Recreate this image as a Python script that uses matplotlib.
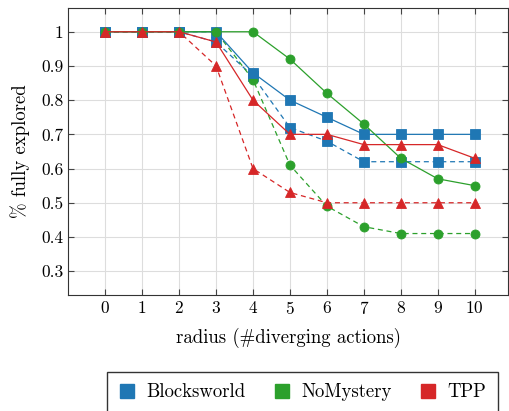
import matplotlib.pyplot as plt
from matplotlib.lines import Line2D

### ---- Data
radius = [0, 1, 2, 3, 4, 5, 6, 7, 8, 9, 10]

bw_solid = [1, 1, 1, 1.00, 0.88, 0.80, 0.75, 0.70, 0.70, 0.70, 0.70]
bw_dash = [1, 1, 1, 0.97, 0.87, 0.72, 0.68, 0.62, 0.62, 0.62, 0.62]
nm_solid = [1, 1, 1, 1.00, 1.00, 0.92, 0.82, 0.73, 0.63, 0.57, 0.55]
nm_dash = [1, 1, 1, 1.00, 0.86, 0.61, 0.49, 0.43, 0.41, 0.41, 0.41]
tpp_solid = [1, 1, 1, 0.97, 0.80, 0.70, 0.70, 0.67, 0.67, 0.67, 0.63]
tpp_dash = [1, 1, 1, 0.90, 0.60, 0.53, 0.50, 0.50, 0.50, 0.50, 0.50]

names = ["Blocksworld", "NoMystery", "TPP"]
colors = ["#1f77b4", "#2ca02c", "#d62728"]
yticks = [0.3, 0.4, 0.5, 0.6, 0.7, 0.8, 0.9, 1.0]

plt.rcParams['font.family'] = ['cmr10', 'DejaVu Serif']
plt.rcParams['mathtext.fontset'] = 'cm'
plt.rcParams['axes.formatter.use_mathtext'] = True

fig = plt.figure(figsize=(5.09, 4.11), dpi=100)
ax = fig.add_axes([0.134, 0.282, 0.864, 0.699])

### ---- dashed first so solid lines sit on top
series = [
    (bw_dash, colors[0], 's', '--'),
    (nm_dash, colors[1], 'o', '--'),
    (tpp_dash, colors[2], '^', '--'),
    (bw_solid, colors[0], 's', '-'),
    (nm_solid, colors[1], 'o', '-'),
    (tpp_solid, colors[2], '^', '-'),
]
for vals, c, m, ls in series:
    line, = ax.plot(radius, vals, color=c, marker=m, linestyle=ls,
                    linewidth=0.9, markersize=6.5, markeredgewidth=0.6,
                    markeredgecolor=c)
    if ls == '--':
        line.set_dashes((4, 3))

ax.set_xlim(-1, 10.9)
ax.set_ylim(0.23, 1.07)
ax.set_xticks(radius)
ax.set_yticks(yticks)
ax.set_yticklabels(["0.3", "0.4", "0.5", "0.6", "0.7", "0.8", "0.9", "1"])
ax.tick_params(direction='in', top=True, right=True, labelsize=12.5, length=4,
               color='#444444')
ax.grid(True, color='#dddddd', linewidth=0.8)
ax.set_axisbelow(True)
ax.set_xlabel("radius (#diverging actions)", fontsize=13.5, labelpad=8)
ax.set_ylabel("% fully explored", fontsize=13.5, labelpad=8)
for s in ax.spines.values():
    s.set_color('#333333')

handles = [Line2D([], [], marker='s', linestyle='none', color=c,
                  markersize=10, markeredgecolor=c) for c in colors]
fig.legend(handles, names, loc='upper left',
           bbox_to_anchor=(0.210, -0.02, 0.768, 0.115), mode='expand',
           ncol=3, frameon=True, fancybox=False, edgecolor='black',
           fontsize=13.5, handletextpad=0.6, borderpad=0.6,
           handlelength=0.9, borderaxespad=0)

plt.savefig("out.png", dpi=100)
